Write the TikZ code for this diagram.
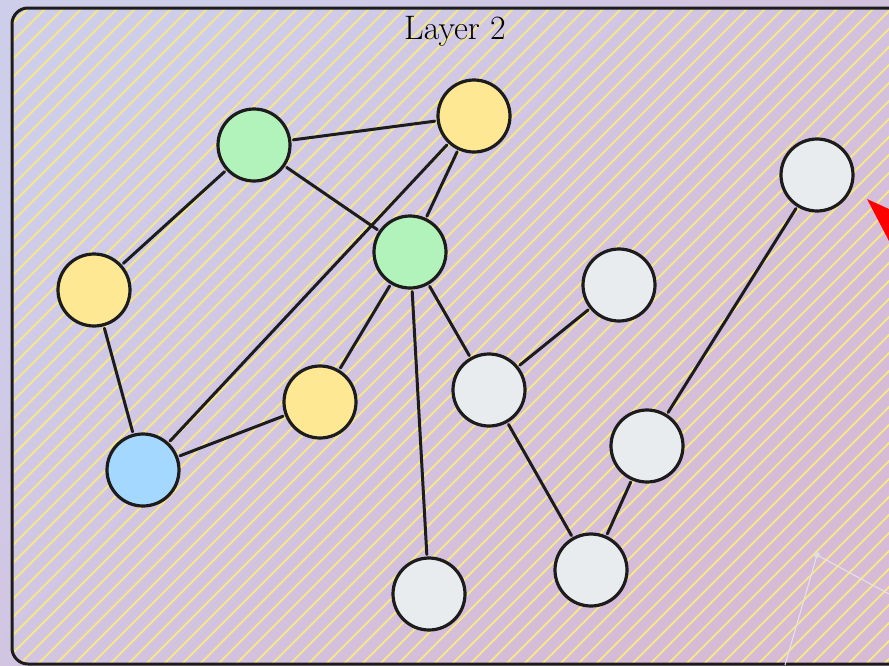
\documentclass[tikz,border=0pt]{standalone}
\usepackage{tikz}
\usetikzlibrary{arrows.meta,positioning,calc,backgrounds}
\definecolor{bglav}{RGB}{206,205,234}
\definecolor{bgpink}{RGB}{214,186,214}
\definecolor{hatchyel}{RGB}{246,230,138}
\definecolor{nodegreen}{RGB}{178,242,187}
\definecolor{nodeyellow}{RGB}{255,232,148}
\definecolor{nodeblue}{RGB}{165,216,255}
\definecolor{nodegray}{RGB}{233,236,239}
\definecolor{inkblack}{RGB}{28,28,28}

\begin{document}
\begin{tikzpicture}[
  x=1pt, y=-1pt,
  dot/.style={circle, draw=inkblack, line width=3.2pt, minimum size=72pt, inner sep=0pt},
  green/.style={dot, fill=nodegreen},
  yellow/.style={dot, fill=nodeyellow},
  blue/.style={dot, fill=nodeblue},
  grey/.style={dot, fill=nodegray},
  link/.style={draw=inkblack, line width=3pt, line cap=round, shorten <=2pt, shorten >=2pt},
  hatchline/.style={draw=hatchyel, line width=2pt}]
\useasboundingbox (0,0) rectangle (889,665);
\clip (0,0) rectangle (889,665);
% background and frame
\shade[top color=bglav, bottom color=bgpink, shading angle=45] (0,0) rectangle (889,665);
\begin{scope}
  \clip[rounded corners=16pt] (12,8) rectangle (906,664);
  \foreach \a in {-690,-672,...,900}
    \draw[hatchline] (\a,690) -- ++(690,-690);
\end{scope}
\draw[inkblack, line width=3pt, rounded corners=16pt] (12,8) rectangle (906,664);
\node[font=\fontsize{34}{38}\selectfont] (title) at (455,31) {Layer 2};
% nodes
\node[green] (g1) at (254,145) {};
\node[yellow] (y1) at (474,116) {};
\node[green] (g2) at (410,252) {};
\node[yellow] (y2) at (94,290) {};
\node[yellow] (y3) at (320,402) {};
\node[blue] (b1) at (143,470) {};
\node[grey] (w1) at (619,285) {};
\node[grey] (w2) at (489,390) {};
\node[grey] (w3) at (817,175) {};
\node[grey] (w4) at (647,446) {};
\node[grey] (w5) at (591,570) {};
\node[grey] (w6) at (429,594) {};
% links
\draw[link] (g1) -- (y1);
\draw[link] (g1) -- (g2);
\draw[link] (g1) -- (y2);
\draw[link] (y1) -- (b1);
\draw[link] (y1) -- (g2);
\draw[link] (g2) -- (y3);
\draw[link] (g2) -- (w6);
\draw[link] (g2) -- (w2);
\draw[link] (y2) -- (b1);
\draw[link] (y3) -- (b1);
\draw[link] (w2) -- (w1);
\draw[link] (w2) -- (w5);
\draw[link] (w4) -- (w5);
\draw[link] (w3) -- (w4);
% pointer and faint selection marks
\fill[red] (867,199) -- (889,209) -- (889,241) -- cycle;
\coordinate (sel) at (817,555);
\draw[white!80!gray, line width=1pt] (785,665) -- (sel) -- (889,594);
\fill[white!75!gray] (sel) circle (3pt);
\end{tikzpicture}
\end{document}
